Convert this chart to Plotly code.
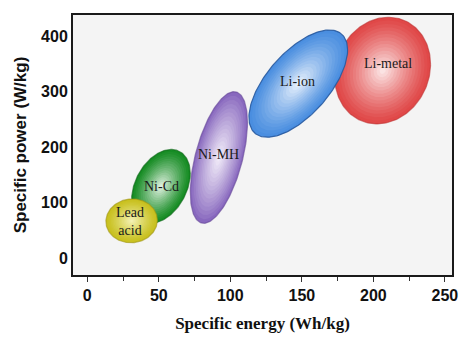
import numpy as np
import plotly.graph_objects as go

# ---- data ----
batteries = ["Li-metal", "Li-ion", "Ni-MH", "Ni-Cd", "Lead acid"]
labels = ["Li-metal", "Li-ion", "Ni-MH", "Ni-Cd", "Lead<br>acid"]
energy_min = [173, 113, 72, 31, 13]      # Wh/kg
energy_max = [240, 182, 112, 72, 49]
power_min = [242, 218, 63, 63, 28]       # W/kg
power_max = [434, 411, 300, 196, 107]
tilt = [0.12, 0.63, 0.53, 0.35, 0.03]     # correlation of energy/power extents
label_energy = [210, 147, 92, 52, 30]
label_power = [350, 318, 187, 130, 67]

x_ticks = [0, 50, 100, 150, 200, 250]
y_ticks = [0, 100, 200, 300, 400]

# ---- styles ----
edge_colors = [(224, 72, 72), (74, 142, 224), (136, 104, 190), (22, 140, 36), (200, 192, 30)]
center_colors = [(253, 240, 240), (240, 246, 253), (246, 242, 251), (236, 246, 236), (246, 244, 190)]
grad_power = [1.2, 1.2, 0.9, 1.2, 1.2]
outline_colors = ["rgba(190,50,50,0.6)", "rgba(40,90,160,0.9)", "rgba(100,70,150,0.6)",
                  "rgba(10,100,20,0.6)", "rgba(160,150,20,0.6)"]

fig = go.Figure()

t = np.linspace(0, 2 * np.pi, 181)
n_layers = 16
for i, name in enumerate(batteries):
    cx = (energy_min[i] + energy_max[i]) / 2
    cy = (power_min[i] + power_max[i]) / 2
    hx = (energy_max[i] - energy_min[i]) / 2
    hy = (power_max[i] - power_min[i]) / 2
    delta = np.arccos(tilt[i])
    ec = np.array(edge_colors[i], float)
    cc = np.array(center_colors[i], float)
    for k in range(n_layers):
        s = 1 - k / n_layers
        w = (1 - s) ** grad_power[i]
        col = ec + (cc - ec) * w
        xs = cx + s * hx * np.cos(t)
        ys = cy + s * hy * np.cos(t - delta)
        fig.add_trace(go.Scatter(
            x=xs, y=ys, mode="lines", fill="toself",
            fillcolor="rgb(%d,%d,%d)" % tuple(col.round().astype(int)),
            line=dict(width=1.2 if k == 0 else 0,
                      color=outline_colors[i] if k == 0 else "rgba(0,0,0,0)"),
            hoverinfo="skip", showlegend=False))
    fig.add_annotation(x=label_energy[i], y=label_power[i], text=labels[i],
                       showarrow=False,
                       font=dict(family="Liberation Serif, Times New Roman, serif",
                                 size=14, color="#1a1a1a"))

fig.update_layout(
    width=474, height=342,
    margin=dict(l=73, r=22, t=15, b=63),
    paper_bgcolor="white", plot_bgcolor="#f4f4f4",
    xaxis=dict(range=[-10, 255], tickvals=x_ticks, ticks="outside", ticklen=5,
               tickwidth=1.2, tickcolor="#333",
               minor=dict(dtick=25, tick0=0, ticks="outside", ticklen=4, tickcolor="#333"),
               showgrid=False, zeroline=False, showline=True, linecolor="#1a1a1a",
               linewidth=2, mirror=True,
               tickfont=dict(family="Liberation Sans, Arial, sans-serif", size=16,
                             color="#111", weight="bold"),
               title=dict(text="<b>Specific energy (Wh/kg)</b>", standoff=14,
                          font=dict(family="Liberation Serif, Times New Roman, serif",
                                    size=17, color="#111"))),
    yaxis=dict(range=[-30, 438], tickvals=y_ticks, ticks="",
               showgrid=False, zeroline=False, showline=True, linecolor="#1a1a1a",
               linewidth=2, mirror=True,
               tickfont=dict(family="Liberation Sans, Arial, sans-serif", size=16,
                             color="#111", weight="bold"),
               title=dict(text="<b>Specific power (W/kg)</b>", standoff=10,
                          font=dict(family="Liberation Sans, Arial, sans-serif",
                                    size=17, color="#111"))),
)

fig.write_html("out.html")
